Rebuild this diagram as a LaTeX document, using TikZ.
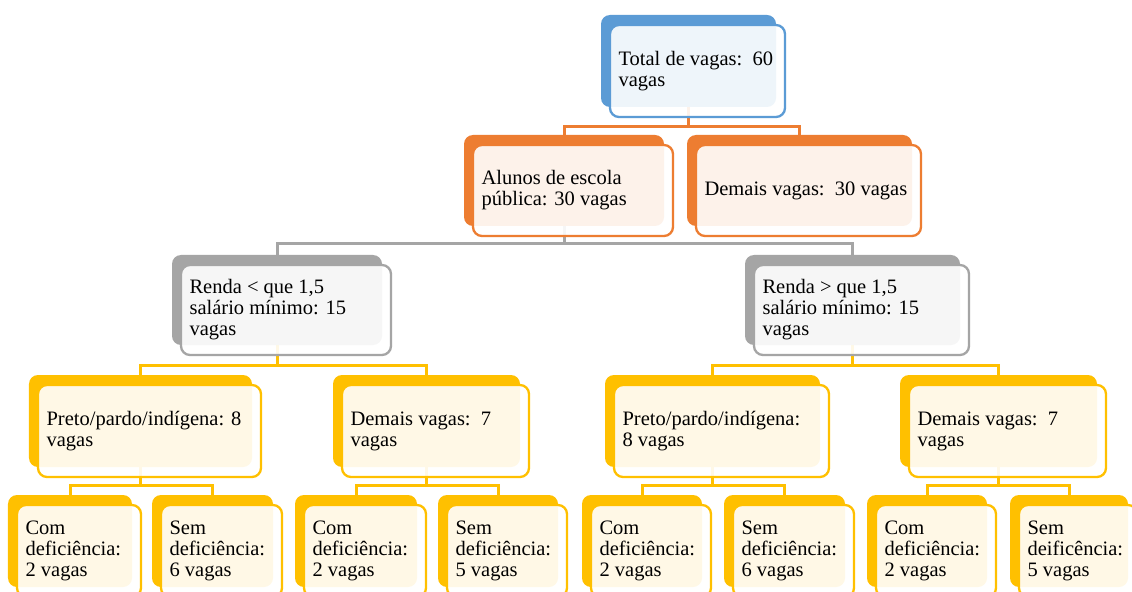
\documentclass[tikz,border=0pt]{standalone}
\usepackage{fontspec}
\setmainfont{Liberation Serif}
\pgfdeclarelayer{bg}
\pgfsetlayers{bg,main}
\definecolor{cblue}{HTML}{5B9BD5}
\definecolor{corange}{HTML}{ED7D31}
\definecolor{cgray}{HTML}{A5A5A5}
\definecolor{cgold}{HTML}{FFC000}
\tikzset{
  bkbox/.style={fill=#1, draw=none, rounded corners=9bp, inner sep=0pt},
  frbox/.style={fill=white, fill opacity=0.9, draw=#1, line width=2.3bp, rounded corners=9bp, inner sep=0pt},
  txtn/.style={font=\fontsize{20.5bp}{21bp}\selectfont, align=left, inner sep=0pt, text=black, anchor=west},
  conn/.style={draw=#1, line width=3bp}
}
\newcommand\cbox[7]{%
  \node[bkbox=#6, minimum width=#4bp, minimum height=#5bp] (#1) at (#2,#3) {};
  \node[frbox=#6, minimum width=#4bp, minimum height=#5bp] (#1f) at ([shift={(9bp,-10bp)}]#1.center) {};
  \node[txtn] (#1t) at ([xshift=9.5bp]#1f.west) {#7};
}
\begin{document}
\begin{tikzpicture}[x=1bp,y=-1bp]
\useasboundingbox (0,0) rectangle (1132,592);
\clip (0,0) rectangle (1132,592);
% level 1
\cbox{tot}{688.5}{61}{175}{92}{cblue}{Total de vagas:~~60\\vagas}
% level 2
\cbox{alu}{564}{180.5}{200}{91}{corange}{Alunos de escola\\pública: 30 vagas}
\cbox{dem}{799.5}{180.5}{225}{91}{corange}{Demais vagas:~~30 vagas}
% level 3
\cbox{rl}{277}{300}{210}{90}{cgray}{Renda < que 1,5\\salário mínimo: 15\\vagas}
\cbox{rh}{852.5}{300}{215}{90}{cgray}{Renda > que 1,5\\salário mínimo: 15\\vagas}
% level 4
\cbox{pl}{140.5}{421}{223}{92}{cgold}{Preto/pardo/indígena: 8\\vagas}
\cbox{dl}{426.5}{421}{187}{92}{cgold}{Demais vagas:~~7\\vagas}
\cbox{pr}{712.5}{421}{215}{92}{cgold}{Preto/pardo/indígena:\\8 vagas}
\cbox{dr}{998.5}{421}{197}{92}{cgold}{Demais vagas:~~7\\vagas}
% level 5
\cbox{ca}{70}{541}{124}{92}{cgold}{Com\\deficiência:\\2 vagas}
\cbox{sa}{212.5}{541}{121}{92}{cgold}{Sem\\deficiência:\\6 vagas}
\cbox{cb}{356}{541}{122}{92}{cgold}{Com\\deficiência:\\2 vagas}
\cbox{sb}{498}{541}{120}{92}{cgold}{Sem\\deficiência:\\5 vagas}
\cbox{cc}{642}{541}{120}{92}{cgold}{Com\\deficiência:\\2 vagas}
\cbox{sc}{784.5}{541}{121}{92}{cgold}{Sem\\deficiência:\\6 vagas}
\cbox{cd}{927}{541}{120}{92}{cgold}{Com\\deficiência:\\2 vagas}
\cbox{sd}{1069}{541}{118}{92}{cgold}{Sem\\deificência:\\5 vagas}
% bus coordinates
\coordinate (b1) at (0,127);
\coordinate (b2) at (0,244);
\coordinate (b3) at (0,365);
\coordinate (b4) at (0,485);
\begin{pgfonlayer}{bg}
\fill[white] (0,0) rectangle (1132,592);
\draw[conn=corange] (tot.south) -- (tot.south |- b1) -| (alu.north);
\draw[conn=corange] (tot.south |- b1) -| (dem.north);
\draw[conn=cgray] (alu.south) -- (alu.south |- b2) -| (rl.north);
\draw[conn=cgray] (alu.south |- b2) -| (rh.north);
\draw[conn=cgold] (rl.south) -- (rl.south |- b3) -| (pl.north);
\draw[conn=cgold] (rl.south |- b3) -| (dl.north);
\draw[conn=cgold] (rh.south) -- (rh.south |- b3) -| (pr.north);
\draw[conn=cgold] (rh.south |- b3) -| (dr.north);
\draw[conn=cgold] (pl.south) -- (pl.south |- b4) -| (ca.north);
\draw[conn=cgold] (pl.south |- b4) -| (sa.north);
\draw[conn=cgold] (dl.south) -- (dl.south |- b4) -| (cb.north);
\draw[conn=cgold] (dl.south |- b4) -| (sb.north);
\draw[conn=cgold] (pr.south) -- (pr.south |- b4) -| (cc.north);
\draw[conn=cgold] (pr.south |- b4) -| (sc.north);
\draw[conn=cgold] (dr.south) -- (dr.south |- b4) -| (cd.north);
\draw[conn=cgold] (dr.south |- b4) -| (sd.north);
\end{pgfonlayer}
\end{tikzpicture}
\end{document}
